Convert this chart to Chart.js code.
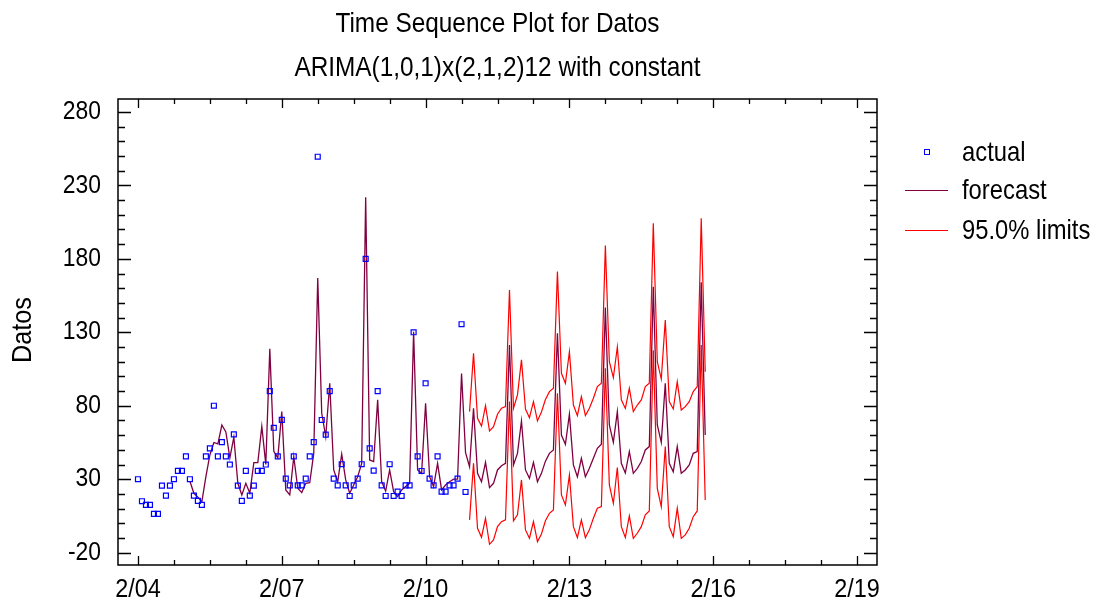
<!DOCTYPE html>
<html>
<head>
<meta charset="utf-8">
<script src="https://cdn.jsdelivr.net/npm/chart.js@4.4.1/dist/chart.umd.min.js"></script>
<style>
html, body { margin: 0; padding: 0; background: #fff; }
</style>
</head>
<body>
<canvas id="myChart" width="1096" height="605"></canvas>
<script>
// monthly series, month 0 = 2/04
var actualStart = 0;
var actual = [30, 15, 12.5, 12.5, 6.4, 6.4, 25.6, 18.8, 25.6, 30, 35.7, 35.7,
  45.5, 30, 18.8, 15.2, 12.5, 45.5, 51, 80, 45.5, 55.2, 45.5, 40,
  60.5, 25.6, 15.2, 35.7, 18.8, 25.6, 35.7, 35.7, 40, 90, 65, 45.5,
  70.4, 30.4, 25.8, 45.5, 25.8, 25.8, 30.4, 45.5, 55.2, 249.5, 70.3, 60.3,
  90, 30.4, 25.8, 40.2, 25.8, 18.6, 25.8, 30.4, 40.2, 180, 51, 35.8,
  90, 25.8, 18.6, 40.2, 18.6, 21.5, 18.6, 25.8, 25.8, 130, 45.5, 35.6,
  95.3, 30.4, 25.8, 45.5, 21.5, 21.5, 25.8, 25.8, 30.4, 135.5, 21.3];

var forecastStart = 13;
var forecast = [28.6, 20.4, 17.7, 14.7, 31.7, 46.5, 55, 54, 66.9, 62.2, 44.5,
  58.6, 27.2, 19.3, 27.2, 20.4, 41.3, 41.3, 66, 40, 118.7, 49, 44.5,
  76, 22.7, 19.3, 45.4, 23.8, 20.9, 27.2, 27.7, 47.6, 167, 74.9, 59,
  95.3, 36.3, 28.3, 47, 29.5, 20.4, 26, 31.7, 40.8, 222, 43.1, 42,
  84, 28.3, 21.9, 36.3, 21.5, 18.1, 22.7, 25, 27.2, 130.4, 36.3, 34,
  81.7, 31.7, 25, 40.8, 22.7, 26, 28.3, 30, 30, 102, 48,
  38.5, 78.3, 34, 28.3, 41.5, 24.3, 27.2, 36.3, 39.2, 40.8, 121.4, 39.7,
  47.6, 69.6, 36.3, 30.6, 41.5, 28.3, 34, 42.3, 47.6, 49.9, 129.3, 60.1,
  53.8, 74.2, 39.7, 31.7, 44.2, 31.7, 37.4, 44.2, 51, 53.8, 146.8, 66.9,
  55.1, 76, 40.8, 34.2, 48.8, 34, 37.4, 42, 49.9, 52.2, 161, 66.9,
  55.1, 95.3, 40.8, 35.1, 52.2, 34, 36.3, 39.7, 47.6, 48.8, 164, 60.1];

var limitStart = 83;
var upper = [76, 115.7, 71.5, 66.2, 80, 62.8, 65.8, 74.2, 78.3, 79.4, 158.8, 78.3,
  87.4, 111.2, 77.8, 71.9, 82.8, 69.7, 75.8, 84.2, 89.6, 91.9, 171.3, 102.1,
  95.3, 116.8, 80.5, 73.3, 86.2, 73.3, 78.3, 85.1, 93, 95.3, 189, 110,
  99.2, 120, 84, 78.2, 91.9, 76, 80.5, 84, 93, 95.3, 204.2, 110,
  98.2, 138.4, 82.8, 77.8, 96.4, 77.1, 79.4, 82.8, 89.6, 93, 207.6, 103.2];
var lower = [2.3, 40.8, -3.4, -9.5, 3.4, -14.3, -11.4, -2.3, 1.1, 2.3, 82.8, 1.6,
  5.7, 29.5, -4.5, -10.2, 1.1, -12.5, -7.3, 1.7, 6.8, 9.1, 88.5, 19.3,
  12.5, 32.9, -2.3, -9.8, 2.3, -9.8, -4.5, 3.4, 10.2, 11.3, 105.5, 26.1,
  13.6, 38, -2.3, -9.7, 5.1, -10.3, -6.8, -2.3, 5.7, 8.4, 117.7, 23.8,
  11.3, 52.2, -2.3, -9.1, 10.2, -10.3, -7.9, -3.4, 4.5, 8.4, 121.4, 15.9];

var tickMonths = [0, 36, 72, 108, 144, 180];
var tickLabels = ['2/04', '2/07', '2/10', '2/13', '2/16', '2/19'];
var yTicks = [-20, 30, 80, 130, 180, 230, 280];
var titleLines = ['Time Sequence Plot for Datos', 'ARIMA(1,0,1)x(2,1,2)12 with constant'];
var legendNames = ['actual', 'forecast', '95.0% limits'];

var FONT = '"Liberation Sans", Arial, sans-serif';

function toPoints(arr, start) {
  return arr.map(function(v, i) { return { x: start + i, y: v }; });
}

// condensed text, like the original plot
function txt(ctx, s, x, y, size, sx, align, rot) {
  ctx.save();
  ctx.font = size + 'px ' + FONT;
  ctx.fillStyle = '#000';
  ctx.textBaseline = 'middle';
  ctx.textAlign = align;
  ctx.translate(x, y);
  if (rot) ctx.rotate(rot);
  ctx.scale(sx, 1);
  ctx.fillText(s, 0, 0);
  ctx.restore();
}

var frameTicks = {
  id: 'frameTicks',
  afterDraw: function(chart) {
    var ctx = chart.ctx, a = chart.chartArea;
    var xs = chart.scales.x, ys = chart.scales.y;
    ctx.save();
    ctx.strokeStyle = '#000';
    ctx.lineWidth = 1.5;
    ctx.strokeRect(a.left, a.top, a.right - a.left, a.bottom - a.top);
    ctx.lineWidth = 1.3;
    ctx.beginPath();
    for (var v = -20; v <= 280; v += 10) {
      var y = Math.round(ys.getPixelForValue(v)) + 0.5;
      var len = ((v + 20) % 50 === 0) ? 13 : 7;
      ctx.moveTo(a.left, y); ctx.lineTo(a.left + len, y);
      ctx.moveTo(a.right, y); ctx.lineTo(a.right - len, y);
    }
    for (var m = 0; m <= 180; m += 9) {
      var x = Math.round(xs.getPixelForValue(m)) + 0.5;
      var l2 = (m % 36 === 0) ? 9 : 5;
      ctx.moveTo(x, a.bottom); ctx.lineTo(x, a.bottom - l2);
      ctx.moveTo(x, a.top); ctx.lineTo(x, a.top + l2);
    }
    ctx.stroke();
    ctx.restore();

    // tick labels
    yTicks.forEach(function(v) {
      txt(ctx, String(v), a.left - 17, ys.getPixelForValue(v), 26, 0.88, 'right');
    });
    tickMonths.forEach(function(m, i) {
      txt(ctx, tickLabels[i], xs.getPixelForValue(m), 590, 26, 0.9, 'center');
    });
    // titles
    txt(ctx, titleLines[0], (a.left + a.right) / 2, 24, 28, 0.87, 'center');
    txt(ctx, titleLines[1], (a.left + a.right) / 2, 68, 28, 0.87, 'center');
    txt(ctx, 'Datos', 23, 330, 28, 0.9, 'center', -Math.PI / 2);

    // legend
    ctx.save();
    ctx.strokeStyle = '#0000ff';
    ctx.lineWidth = 1;
    ctx.strokeRect(924.5, 149.5, 5, 5);
    ctx.strokeStyle = '#800040';
    ctx.lineWidth = 1.2;
    ctx.beginPath(); ctx.moveTo(905, 190.5); ctx.lineTo(948, 190.5); ctx.stroke();
    ctx.strokeStyle = '#ff0000';
    ctx.beginPath(); ctx.moveTo(905, 230.5); ctx.lineTo(948, 230.5); ctx.stroke();
    ctx.restore();
    txt(ctx, legendNames[0], 962, 153, 28, 0.85, 'left');
    txt(ctx, legendNames[1], 962, 191, 28, 0.85, 'left');
    txt(ctx, legendNames[2], 962, 231, 28, 0.85, 'left');
  }
};

var chart = new Chart(document.getElementById('myChart'), {
  type: 'line',
  data: {
    datasets: [
      { label: 'upper', data: toPoints(upper, limitStart), borderColor: '#ff0000', borderWidth: 1.2, pointRadius: 0, tension: 0, fill: false, order: 3 },
      { label: 'lower', data: toPoints(lower, limitStart), borderColor: '#ff0000', borderWidth: 1.2, pointRadius: 0, tension: 0, fill: false, order: 3 },
      { label: 'forecast', data: toPoints(forecast, forecastStart), borderColor: '#800040', borderWidth: 1.3, pointRadius: 0, tension: 0, fill: false, order: 2 },
      { label: 'actual', data: toPoints(actual, actualStart), showLine: false, pointStyle: 'rect', pointRadius: 3.5, borderColor: '#0000ff', backgroundColor: 'rgba(0,0,0,0)', pointBorderWidth: 1.2, order: 1 }
    ]
  },
  options: {
    responsive: false,
    animation: false,
    devicePixelRatio: 1,
    layout: { padding: { left: 0, right: 219, top: 99, bottom: 0 } },
    plugins: {
      legend: { display: false },
      tooltip: { enabled: false },
      title: { display: false }
    },
    scales: {
      x: {
        type: 'linear',
        min: -5,
        max: 185,
        grid: { display: false },
        border: { display: false },
        ticks: { display: false },
        afterFit: function(s) { s.height = 40; }
      },
      y: {
        min: -28.4,
        max: 288.8,
        grid: { display: false },
        border: { display: false },
        ticks: { display: false },
        afterFit: function(s) { s.width = 118; }
      }
    }
  },
  plugins: [frameTicks]
});
</script>
</body>
</html>
